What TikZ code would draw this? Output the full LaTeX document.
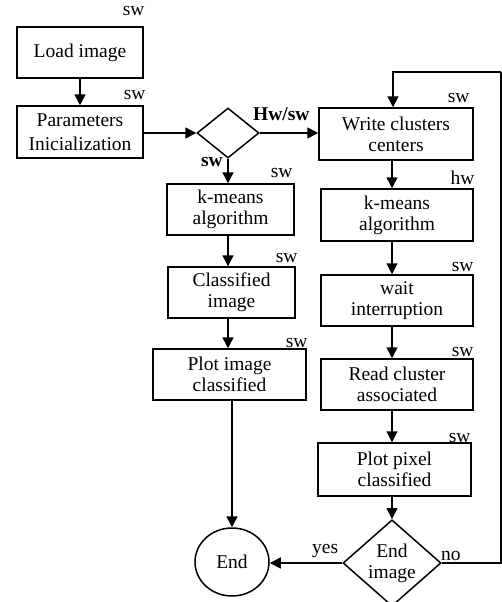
\documentclass[tikz,border=0pt]{standalone}
\usepackage{fontspec}
\setmainfont{Liberation Serif}
\usetikzlibrary{shapes.geometric,arrows.meta}
\newcommand\mainfs{\fontsize{19.5}{21}\selectfont}
\begin{document}
\begin{tikzpicture}[x=1pt,y=-1pt,
  box/.style={draw,line width=1.5pt,inner sep=0pt,align=center,font=\mainfs},
  dia/.style={draw,diamond,line width=1.5pt,inner sep=0pt,align=center,font=\mainfs},
  lab/.style={font=\mainfs,inner sep=0pt,anchor=base east},
  blab/.style={font=\mainfs\bfseries,inner sep=0pt},
  arr/.style={-{Triangle[length=11pt,width=11pt]},line width=1.5pt},
  conn/.style={line width=1.5pt}]
\useasboundingbox (0,0) rectangle (502,602);
% left column
\node[box,minimum width=126pt,minimum height=51pt] (load) at (80,52.5) {Load image};
\node[box,minimum width=126pt,minimum height=52pt] (params) at (80,132) {Parameters\\[3pt]Inicialization};
\node[dia,minimum width=62pt,minimum height=50pt] (dec) at (228,133) {};
\node[box,minimum width=127pt,minimum height=51pt] (km1) at (230.5,209.5) {k-means\\algorithm};
\node[box,minimum width=127pt,minimum height=51pt] (cls) at (231.5,292.5) {Classified\\image};
\node[box,minimum width=153pt,minimum height=51pt] (plotimg) at (229.5,374.5) {Plot image\\classified};
\node[draw,ellipse,line width=1.5pt,inner sep=0pt,font=\mainfs,minimum width=74pt,minimum height=68pt] (end) at (232,562) {End};
% right column
\node[box,minimum width=154pt,minimum height=52pt] (write) at (396,134) {Write clusters\\centers};
\node[box,minimum width=152pt,minimum height=52pt] (km2) at (397,215) {k-means\\algorithm};
\node[box,minimum width=152pt,minimum height=51pt] (wait) at (397,300.5) {wait\\interruption};
\node[box,minimum width=152pt,minimum height=51pt] (read) at (397,384.5) {Read cluster\\associated};
\node[box,minimum width=153pt,minimum height=53pt] (plotpix) at (394.5,469.5) {Plot pixel\\classified};
\node[dia,minimum width=98pt,minimum height=74pt] (enddec) at (392,563) {End\\image};
\coordinate (fb) at (501,72);
% sw/hw labels
\node[lab] (l1) at ([shift={(1,-11)}]load.north east) {sw};
\node[lab] (l2) at ([shift={(2,-6)}]params.north east) {sw};
\node[lab] (l3) at ([shift={(-2,-6)}]km1.north east) {sw};
\node[lab] (l4) at ([shift={(2,-4)}]cls.north east) {sw};
\node[lab] (l5) at ([shift={(1,-1)}]plotimg.north east) {sw};
\node[lab] (l6) at ([shift={(-4,-5)}]write.north east) {sw};
\node[lab] (l7) at ([shift={(1,-4)}]km2.north east) {hw};
\node[lab] (l8) at ([shift={(0,-3)}]wait.north east) {sw};
\node[lab] (l9) at ([shift={(0,-2)}]read.north east) {sw};
\node[lab] (l10) at ([shift={(-1,0)}]plotpix.north east) {sw};
\node[blab,anchor=base east] (bsw) at (223,166) {sw};
\node[blab,anchor=base west] (hwsw) at (253,120) {Hw/sw};
\node[font=\mainfs,inner sep=0pt,anchor=base west] (yes) at (312,553) {yes};
\node[font=\mainfs,inner sep=0pt,anchor=base west] (no) at (441,560) {no};
% connectors
\draw[arr] (load) -- (params);
\draw[arr] (params.east |- dec.west) -- (dec.west);
\draw[arr] (dec.east) -- (dec.east -| write.west);
\draw[arr] (dec.south) -- (dec.south |- km1.north);
\draw[arr] (km1.south -| dec.south) -- (cls.north -| dec.south);
\draw[arr] (cls.south -| dec.south) -- (plotimg.north -| dec.south);
\draw[arr] (plotimg.south -| end.north) -- (end.north);
\draw[arr] (write.south -| enddec.north) -- (km2.north -| enddec.north);
\draw[arr] (km2.south -| enddec.north) -- (wait.north -| enddec.north);
\draw[arr] (wait.south -| enddec.north) -- (read.north -| enddec.north);
\draw[arr] (read.south -| enddec.north) -- (plotpix.north -| enddec.north);
\draw[arr] (plotpix.south -| enddec.north) -- (enddec.north);
\draw[arr] (enddec.west) -- (end.east |- enddec.west);
\draw[conn] (enddec.east) -| (fb);
\draw[arr] (fb) -| ([xshift=-3pt]write.north);
\end{tikzpicture}
\end{document}
